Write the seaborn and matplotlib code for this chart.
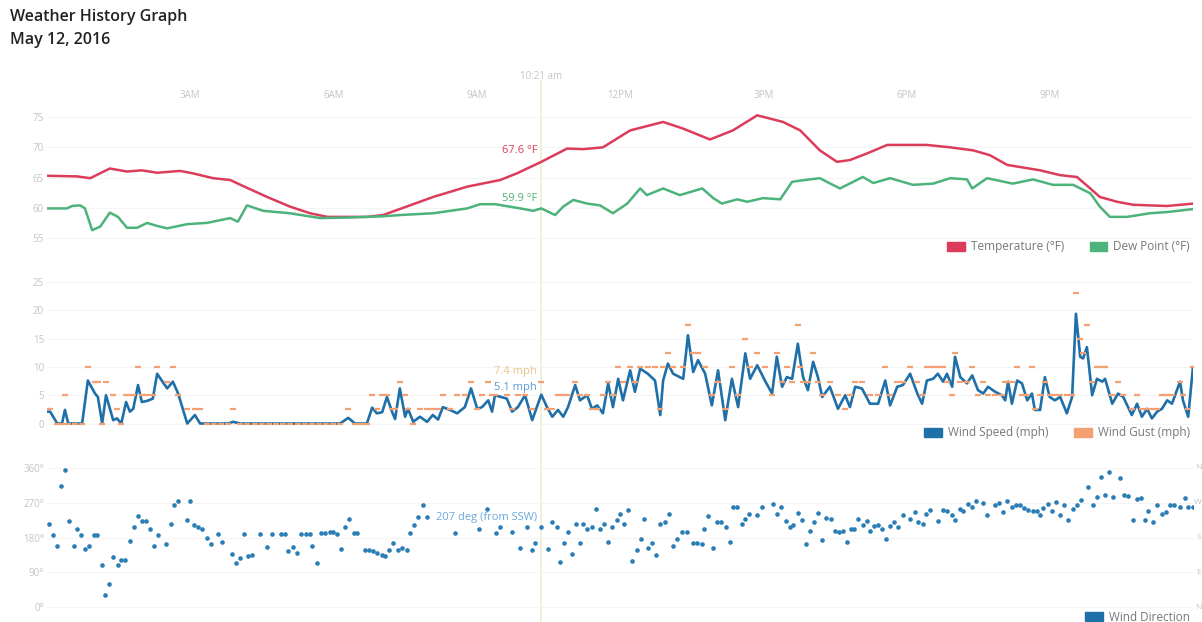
# Weather history graph for May 12, 2016: temperature, wind and wind direction

import matplotlib.pyplot as plt
import seaborn as sns
import pandas as pd
from matplotlib.patches import Patch
from matplotlib.lines import Line2D
from matplotlib.transforms import blended_transform_factory

# temperature and dew point (hours since midnight, deg F)
temp_hours = [0.00, 0.63, 0.91, 1.32, 1.68, 1.99, 2.31, 2.79, 3.06, 3.48,
              3.84, 4.11, 4.61, 5.09, 5.51, 5.87, 6.70, 7.04, 7.39, 8.09,
              8.80, 9.49, 9.84, 10.35, 10.89, 11.22, 11.64, 12.21, 12.90, 13.32,
              13.88, 14.36, 14.87, 15.41, 15.77, 16.18, 16.54, 16.81, 17.17, 17.59,
              18.42, 18.91, 19.39, 19.74, 20.10, 20.79, 21.21, 21.56, 21.84, 22.04,
              22.40, 22.74, 23.45, 24.00]
temp_f = [65.3, 65.2, 64.9, 66.5, 66.0, 66.2, 65.8, 66.1, 65.7, 64.9,
          64.6, 63.6, 61.8, 60.2, 59.1, 58.5, 58.5, 58.8, 59.8, 61.8,
          63.5, 64.6, 65.7, 67.6, 69.8, 69.7, 70.0, 72.8, 74.2, 73.1,
          71.3, 72.8, 75.3, 74.2, 72.8, 69.5, 67.6, 67.9, 69.0, 70.4,
          70.4, 70.0, 69.5, 68.7, 67.1, 66.2, 65.4, 65.1, 63.2, 61.8,
          61.0, 60.5, 60.3, 60.7]

dew_hours = [0.00, 0.42, 0.53, 0.70, 0.80, 0.95, 1.12, 1.32, 1.49, 1.68,
             1.89, 2.10, 2.31, 2.52, 2.94, 3.35, 3.84, 4.00, 4.19, 4.53,
             5.09, 5.72, 6.35, 7.04, 7.39, 8.09, 8.80, 9.07, 9.38, 9.91,
             10.18, 10.35, 10.64, 10.81, 11.02, 11.31, 11.58, 11.85, 12.15, 12.42,
             12.56, 12.90, 13.25, 13.72, 13.95, 14.13, 14.45, 14.66, 14.99, 15.35,
             15.60, 15.77, 16.18, 16.60, 17.08, 17.30, 17.65, 18.13, 18.55, 18.91,
             19.26, 19.37, 19.68, 20.22, 20.64, 21.06, 21.48, 21.84, 22.04, 22.25,
             22.61, 23.09, 23.45, 24.00]
dew_f = [59.9, 59.9, 60.3, 60.4, 59.9, 56.3, 56.9, 59.2, 58.5, 56.7,
         56.7, 57.5, 57.0, 56.6, 57.3, 57.5, 58.3, 57.7, 60.4, 59.5,
         59.1, 58.3, 58.4, 58.6, 58.8, 59.1, 59.9, 60.6, 60.6, 59.9,
         59.5, 59.9, 58.8, 60.2, 61.3, 60.7, 60.4, 59.1, 60.7, 63.2,
         62.1, 63.2, 62.1, 63.2, 61.6, 60.7, 61.4, 61.0, 61.6, 61.4,
         64.3, 64.5, 64.9, 63.2, 65.1, 64.1, 64.9, 63.8, 64.0, 64.9,
         64.7, 63.2, 64.9, 64.0, 64.7, 63.8, 63.8, 62.4, 60.2, 58.5,
         58.5, 59.1, 59.3, 59.8]

# wind speed and gust (mph)
wind_hours = [0.00, 0.07, 0.22, 0.32, 0.38, 0.45, 0.60, 0.74, 0.86, 1.01,
              1.07, 1.16, 1.24, 1.39, 1.47, 1.56, 1.66, 1.74, 1.81, 1.91,
              1.99, 2.10, 2.22, 2.31, 2.52, 2.64, 2.75, 2.94, 3.10, 3.21,
              3.35, 3.50, 3.65, 3.80, 3.90, 4.05, 4.20, 4.35, 4.50, 4.65,
              4.80, 4.95, 5.10, 5.25, 5.40, 5.55, 5.70, 5.85, 6.00, 6.14,
              6.31, 6.45, 6.58, 6.70, 6.81, 6.91, 7.02, 7.12, 7.23, 7.29,
              7.39, 7.50, 7.56, 7.67, 7.81, 7.96, 8.08, 8.19, 8.29, 8.44,
              8.59, 8.75, 8.88, 9.01, 9.11, 9.24, 9.32, 9.38, 9.63, 9.74,
              9.86, 10.01, 10.16, 10.35, 10.47, 10.58, 10.70, 10.81, 10.91, 11.06,
              11.16, 11.31, 11.41, 11.52, 11.64, 11.75, 11.85, 11.96, 12.06, 12.21,
              12.31, 12.42, 12.58, 12.73, 12.84, 12.90, 13.00, 13.11, 13.32, 13.42,
              13.53, 13.63, 13.78, 13.92, 14.05, 14.20, 14.34, 14.47, 14.62, 14.72,
              14.87, 15.03, 15.18, 15.28, 15.39, 15.49, 15.60, 15.72, 15.77, 15.83,
              15.93, 16.04, 16.14, 16.23, 16.39, 16.56, 16.71, 16.81, 16.92, 17.06,
              17.23, 17.40, 17.55, 17.65, 17.80, 17.92, 18.07, 18.22, 18.32, 18.42,
              18.55, 18.65, 18.76, 18.84, 18.95, 19.01, 19.12, 19.26, 19.37, 19.49,
              19.60, 19.70, 19.85, 19.99, 20.06, 20.12, 20.20, 20.31, 20.41, 20.52,
              20.62, 20.68, 20.79, 20.89, 20.99, 21.10, 21.21, 21.35, 21.46, 21.54,
              21.63, 21.69, 21.77, 21.88, 21.98, 22.09, 22.15, 22.30, 22.42, 22.53,
              22.71, 22.82, 22.92, 23.03, 23.13, 23.24, 23.34, 23.45, 23.55, 23.72,
              23.78, 23.89, 23.99]
wind_speed = [2.1, 2.1, 0, 0, 2.4, 0, 0, 0, 7.6, 5.3,
              4.7, 0, 5.0, 0.6, 0.9, 0, 3.8, 2.1, 2.6, 6.8,
              3.8, 4.0, 4.4, 8.8, 6.2, 7.4, 5.3, 0, 1.5, 0,
              0, 0, 0, 0, 0.3, 0, 0, 0, 0, 0,
              0, 0, 0, 0, 0, 0, 0, 0, 0, 0,
              1.0, 0, 0, 0, 2.8, 1.8, 2.0, 4.7, 2.0, 0.8,
              6.2, 1.2, 2.6, 0.3, 1.2, 0.3, 1.5, 0.7, 2.9, 2.4,
              1.8, 2.9, 6.2, 2.6, 2.9, 4.1, 2.1, 5.0, 4.4, 2.1,
              2.9, 5.0, 0.6, 5.1, 2.9, 1.2, 2.4, 1.2, 2.9, 6.8,
              4.1, 5.0, 2.6, 3.2, 1.8, 7.1, 2.9, 7.9, 4.1, 9.4,
              5.6, 9.7, 8.8, 7.6, 1.5, 7.6, 10.6, 8.8, 7.9, 15.6,
              9.1, 11.2, 8.8, 3.2, 9.4, 0.6, 7.9, 2.9, 12.4, 7.9,
              10.3, 7.6, 5.3, 11.8, 6.5, 8.2, 7.9, 14.1, 11.2, 8.2,
              5.9, 10.9, 8.2, 4.7, 6.5, 2.6, 5.0, 2.9, 6.5, 6.2,
              3.5, 3.5, 7.6, 3.2, 6.5, 6.8, 8.8, 5.3, 3.5, 7.6,
              7.9, 8.8, 7.4, 8.8, 6.5, 11.8, 8.2, 7.1, 8.5, 5.9,
              5.3, 6.5, 5.6, 5.0, 4.1, 7.4, 3.5, 7.6, 7.1, 4.1,
              5.3, 2.4, 2.4, 8.2, 4.7, 4.1, 4.7, 1.8, 4.7, 19.4,
              11.8, 11.5, 13.5, 5.0, 7.9, 7.4, 7.9, 3.5, 5.3, 4.7,
              1.5, 3.5, 1.2, 2.6, 0.9, 2.1, 2.6, 4.1, 3.5, 7.4,
              4.1, 1.2, 10.0]
wind_gust = [2.5, 2.5, 0, 0, 5, 0, 0, 0, 10, 7.4,
             7.4, 0, 7.4, 5, 2.5, 0, 5, 5, 5, 10,
             5, 5, 5, 10, 7.4, 10, 5, 2.5, 2.5, 2.5,
             0, 0, 0, 0, 2.5, 0, 0, 0, 0, 0,
             0, 0, 0, 0, 0, 0, 0, 0, 0, 0,
             2.5, 0, 0, 0, 5, 2.5, 5, 5, 2.5, 2.5,
             7.4, 5, 2.5, 0, 2.5, 2.5, 2.5, 2.5, 5, 2.5,
             5, 5, 7.4, 2.5, 5, 7.4, 5, 5, 5, 2.5,
             5, 5, 2.5, 7.4, 2.5, 2.5, 5, 5, 5, 7.4,
             5, 5, 2.5, 2.5, 5, 7.4, 5, 10, 7.4, 10,
             7.4, 10, 10, 10, 2.5, 10, 12.4, 10, 10, 17.5,
             12.4, 12.4, 10, 5, 7.4, 2.5, 10, 5, 15, 10,
             12.4, 10, 5, 12.4, 7.4, 10, 7.4, 17.5, 10, 7.4,
             7.4, 12.4, 7.4, 5, 7.4, 5, 2.5, 5, 7.4, 7.4,
             5, 5, 10, 5, 7.4, 7.4, 10, 7.4, 5, 10,
             10, 10, 10, 7.4, 5, 12.4, 7.4, 7.4, 10, 5,
             7.4, 5, 5, 5, 7.4, 7.4, 7.4, 10, 5, 5,
             10, 2.5, 5, 7.4, 5, 5, 5, 5, 5, 23,
             15, 12.4, 17.5, 7.4, 10, 10, 10, 5, 7.4, 5,
             2.5, 5, 2.5, 2.5, 2.5, 2.5, 5, 5, 5, 7.4,
             5, 2.5, 10]

# wind direction (degrees)
dir_hours = [0.05, 0.13, 0.22, 0.30, 0.39, 0.47, 0.56, 0.64, 0.72, 0.81,
             0.89, 0.98, 1.05, 1.16, 1.22, 1.31, 1.39, 1.49, 1.56, 1.64,
             1.74, 1.82, 1.91, 1.99, 2.07, 2.16, 2.24, 2.33, 2.49, 2.60,
             2.66, 2.75, 2.94, 3.00, 3.08, 3.17, 3.25, 3.35, 3.44, 3.59,
             3.67, 3.88, 3.96, 4.05, 4.13, 4.21, 4.30, 4.46, 4.61, 4.72,
             4.90, 4.98, 5.05, 5.16, 5.24, 5.32, 5.43, 5.51, 5.56, 5.66,
             5.74, 5.82, 5.93, 6.00, 6.07, 6.16, 6.25, 6.33, 6.43, 6.50,
             6.66, 6.75, 6.83, 6.91, 7.02, 7.08, 7.17, 7.25, 7.35, 7.44,
             7.54, 7.60, 7.69, 7.77, 7.87, 7.96, 8.55, 9.05, 9.22, 9.40,
             9.49, 9.74, 9.91, 10.05, 10.16, 10.22, 10.35, 10.49, 10.58, 10.68,
             10.75, 10.83, 10.91, 10.99, 11.08, 11.16, 11.23, 11.31, 11.41, 11.50,
             11.58, 11.66, 11.75, 11.83, 11.94, 12.00, 12.08, 12.17, 12.25, 12.36,
             12.44, 12.50, 12.58, 12.67, 12.75, 12.84, 12.94, 13.02, 13.11, 13.19,
             13.30, 13.40, 13.53, 13.61, 13.72, 13.76, 13.84, 13.95, 14.03, 14.12,
             14.22, 14.30, 14.37, 14.45, 14.55, 14.62, 14.70, 14.87, 14.97, 15.20,
             15.28, 15.37, 15.47, 15.56, 15.62, 15.72, 15.81, 15.90, 15.98, 16.06,
             16.15, 16.23, 16.31, 16.42, 16.50, 16.58, 16.67, 16.75, 16.83, 16.90,
             16.98, 17.08, 17.17, 17.23, 17.31, 17.40, 17.48, 17.57, 17.65, 17.73,
             17.82, 17.92, 18.07, 18.17, 18.24, 18.34, 18.40, 18.49, 18.65, 18.76,
             18.84, 18.95, 19.01, 19.12, 19.18, 19.28, 19.37, 19.45, 19.60, 19.68,
             19.85, 19.93, 20.02, 20.10, 20.20, 20.29, 20.37, 20.45, 20.54, 20.64,
             20.73, 20.79, 20.86, 20.96, 21.04, 21.12, 21.21, 21.29, 21.38, 21.48,
             21.56, 21.65, 21.79, 21.90, 21.98, 22.07, 22.15, 22.23, 22.32, 22.46,
             22.55, 22.63, 22.74, 22.82, 22.90, 22.99, 23.05, 23.16, 23.24, 23.34,
             23.43, 23.51, 23.60, 23.72, 23.82, 23.89, 23.99]
dir_deg = [214, 186, 157, 313, 354, 223, 157, 202, 186, 151,
           159, 186, 186, 110, 30, 59, 130, 110, 121, 121,
           172, 206, 235, 223, 223, 202, 157, 186, 163, 214,
           264, 274, 224, 274, 212, 206, 203, 178, 163, 189,
           169, 138, 113, 127, 189, 133, 136, 189, 155, 189,
           189, 189, 144, 155, 140, 189, 189, 189, 157, 113,
           191, 191, 195, 195, 189, 150, 208, 227, 191, 191,
           147, 147, 144, 141, 136, 133, 147, 165, 148, 152,
           148, 192, 212, 233, 265, 233, 192, 202, 254, 192,
           208, 195, 152, 206, 148, 167, 207, 150, 220, 208,
           116, 167, 195, 138, 214, 167, 214, 203, 206, 254,
           202, 216, 168, 208, 224, 241, 214, 250, 119, 148,
           175, 227, 154, 165, 136, 214, 220, 241, 157, 175,
           195, 195, 167, 167, 163, 203, 235, 152, 220, 220,
           206, 168, 258, 258, 216, 229, 241, 237, 260, 267,
           241, 258, 223, 206, 212, 243, 224, 163, 197, 220,
           243, 174, 231, 227, 197, 195, 197, 169, 202, 202,
           229, 212, 223, 197, 210, 212, 203, 175, 210, 220,
           206, 237, 227, 246, 220, 214, 240, 250, 223, 250,
           248, 237, 224, 254, 248, 267, 258, 274, 269, 237,
           263, 269, 246, 274, 258, 265, 265, 257, 250, 248,
           248, 239, 257, 267, 248, 271, 237, 263, 224, 254,
           265, 278, 311, 265, 284, 337, 291, 350, 286, 333,
           290, 288, 224, 280, 281, 224, 248, 220, 263, 241,
           247, 263, 265, 260, 281, 260, 260]

hour_ticks = [3, 6, 9, 12, 15, 18, 21]
hour_labels = ['3AM', '6AM', '9AM', '12PM', '3PM', '6PM', '9PM']
temp_ticks = [55, 60, 65, 70, 75]
wind_ticks = [0, 5, 10, 15, 20, 25]
dir_ticks = [0, 90, 180, 270, 360]
dir_labels = ['0°', '90°', '180°', '270°', '360°']
compass_labels = ['N', 'E', 'S', 'W', 'N']
cursor_hour = 10.35
cursor_label = '10:21 am'

temp_df = pd.DataFrame({'hour': temp_hours, 'temp': temp_f})
dew_df = pd.DataFrame({'hour': dew_hours, 'dew': dew_f})
wind_df = pd.DataFrame({'hour': wind_hours, 'speed': wind_speed, 'gust': wind_gust})
dir_df = pd.DataFrame({'hour': dir_hours, 'deg': dir_deg})

red = '#dc3c5a'
green = '#4cb37a'
blue = '#1f6fa8'
orange = '#f5a072'
tick_grey = '#c4c4c4'

sns.set_style("white")
plt.rcParams['font.family'] = ['Open Sans', 'DejaVu Sans']

fig = plt.figure(figsize=(12.02, 6.22), dpi=100)
ax1 = fig.add_axes([0.0389, 0.593, 0.954, 0.243])
ax2 = fig.add_axes([0.0389, 0.310, 0.954, 0.2456])
ax3 = fig.add_axes([0.0389, 0.0178, 0.954, 0.2392])

for ax in (ax1, ax2, ax3):
    ax.set_xlim(0, 24)
    ax.set_facecolor('none')
    for s in ax.spines.values():
        s.set_visible(False)
    ax.grid(axis='y', color='#f4f4f4', lw=0.8)
    ax.set_axisbelow(True)
    ax.tick_params(axis='y', length=0, pad=2, labelsize=7, labelcolor=tick_grey)

# temperature panel
sns.lineplot(data=temp_df, x='hour', y='temp', ax=ax1, color=red, lw=1.8)
sns.lineplot(data=dew_df, x='hour', y='dew', ax=ax1, color=green, lw=1.8)
ax1.set_ylim(52.5, 77.5)
ax1.set_yticks(temp_ticks)
ax1.xaxis.tick_top()
ax1.set_xticks(hour_ticks)
ax1.set_xticklabels(hour_labels)
ax1.tick_params(axis='x', length=0, pad=1, labelsize=7, labelcolor=tick_grey)
ax1.set_xlabel('')
ax1.set_ylabel('')

# wind panel
sns.lineplot(data=wind_df, x='hour', y='speed', ax=ax2, color=blue, lw=1.9)
sns.scatterplot(data=wind_df, x='hour', y='gust', ax=ax2, color=orange,
                marker='_', s=14, linewidth=1.6, zorder=3)
ax2.set_ylim(-1, 26)
ax2.set_yticks(wind_ticks)
ax2.set_xticks([])
ax2.set_xlabel('')
ax2.set_ylabel('')

# wind direction panel
sns.scatterplot(data=dir_df, x='hour', y='deg', ax=ax3, color='#2a7db5',
                s=11, linewidth=0)
ax3.set_ylim(-10, 375)
ax3.set_yticks(dir_ticks)
ax3.set_yticklabels(dir_labels)
ax3.set_xticks([])
ax3.set_xlabel('')
ax3.set_ylabel('')
tr = blended_transform_factory(fig.transFigure, ax3.transData)
for d, lab in zip(dir_ticks, compass_labels):
    fig.text(0.9993, d, lab, transform=tr, fontsize=6, color=tick_grey,
             ha='right', va='center')

# cursor line and readouts
cur_tr = blended_transform_factory(ax1.transData, fig.transFigure)
fig.add_artist(Line2D([cursor_hour, cursor_hour], [0, 0.87], transform=cur_tr,
                      color='#eceed0', lw=1.2, zorder=-1))
fig.text(cursor_hour, 0.877, cursor_label, transform=cur_tr, ha='center',
         va='center', fontsize=7, color=tick_grey)

t_now = temp_f[temp_hours.index(cursor_hour)]
d_now = dew_f[dew_hours.index(cursor_hour)]
i = wind_hours.index(cursor_hour)
deg_now = dir_deg[dir_hours.index(cursor_hour)]
ax1.annotate(f'{t_now:.1f} °F', (cursor_hour, t_now), xytext=(-3, 8),
             textcoords='offset points', ha='right', va='center',
             fontsize=8, color=red)
ax1.annotate(f'{d_now:.1f} °F', (cursor_hour, d_now), xytext=(-3, 7),
             textcoords='offset points', ha='right', va='center',
             fontsize=8, color=green)
ax2.annotate(f'{wind_gust[i]:.1f} mph', (cursor_hour, wind_gust[i]), xytext=(-3, 7),
             textcoords='offset points', ha='right', va='center',
             fontsize=8, color='#e6c48e')
ax2.annotate(f'{wind_speed[i]:.1f} mph', (cursor_hour, wind_speed[i]), xytext=(-3, 5),
             textcoords='offset points', ha='right', va='center',
             fontsize=8, color='#5a9bd8')
ax3.annotate(f'{deg_now} deg (from SSW)', (cursor_hour, deg_now), xytext=(-3, 7),
             textcoords='offset points', ha='right', va='center',
             fontsize=8, color='#6aa8dd')

# titles
fig.text(0.008, 0.985, 'Weather History Graph', fontsize=11.5,
         fontweight='semibold', color='#222222', va='top')
fig.text(0.008, 0.948, 'May 12, 2016', fontsize=11.5,
         fontweight='semibold', color='#222222', va='top')

# legends
leg_kw = dict(frameon=False, fontsize=8.5, handlelength=1.5, handleheight=0.8,
              handletextpad=0.5, columnspacing=2.2, labelcolor='#777777',
              loc='center right', ncol=2, borderaxespad=0, borderpad=0)
fig.legend(handles=[Patch(color=red), Patch(color=green)],
           labels=['Temperature (°F)', 'Dew Point (°F)'],
           bbox_to_anchor=(0.99, 0.603), **leg_kw)
fig.legend(handles=[Patch(color=blue), Patch(color=orange)],
           labels=['Wind Speed (mph)', 'Wind Gust (mph)'],
           bbox_to_anchor=(0.99, 0.304), **leg_kw)
fig.legend(handles=[Patch(color=blue)], labels=['Wind Direction'],
           bbox_to_anchor=(0.99, 0.008), **leg_kw)

plt.savefig('out.png', dpi=100)
